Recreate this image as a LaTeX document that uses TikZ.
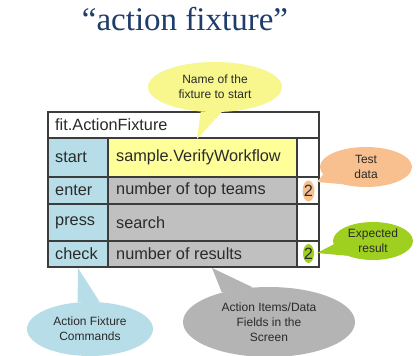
\documentclass[tikz,border=0pt]{standalone}
\usepackage{fontspec}
\setmainfont{Liberation Sans}
\newfontfamily\titlefont{Liberation Serif}
\usetikzlibrary{shapes.geometric}
\definecolor{cmdblue}{HTML}{B7DEE8}
\definecolor{startyellow}{HTML}{FFFF99}
\definecolor{fieldgray}{HTML}{C0C0C0}
\definecolor{noteyellow}{HTML}{F7F78E}
\definecolor{notepeach}{HTML}{F9C08F}
\definecolor{notegreen}{HTML}{9FCF1F}
\definecolor{notegray}{HTML}{B4B4B4}
\definecolor{gridline}{HTML}{3C3C3C}
\definecolor{titleblue}{HTML}{1F3D6B}
\definecolor{celltext}{HTML}{2A2A2A}
\begin{document}
\begin{tikzpicture}[x=1pt,y=-1pt,
  cell/.style={anchor=west, inner sep=0pt, text=celltext, font=\fontsize{16.3}{19}\selectfont},
  digit/.style={inner sep=0pt, text=celltext, font=\fontsize{16.3}{19}\selectfont},
  bubble/.style={ellipse, draw=none, fill=#1, inner sep=0pt},
  bubbletext/.style={align=center, inner sep=0pt, text=celltext, font=\fontsize{12}{15}\selectfont},
  rule/.style={draw=gridline, line width=1.3pt},
]
\useasboundingbox (0,0) rectangle (419,355);
\fill[white] (0,0) rectangle (419,355);

% heading
\node[anchor=base, inner sep=0pt, text=titleblue, font=\titlefont\fontsize{33}{36}\selectfont]
  (title) at (185,31) {“action fixture”};

% table cell backgrounds
\fill[cmdblue] (48,138) rectangle (108,267);
\fill[startyellow] (108,138) rectangle (297,177);
\fill[fieldgray] (108,177) rectangle (297,267);

% highlights behind the data values
\node[bubble=notepeach, minimum width=12pt, minimum height=21pt] (enterhl) at (308.5,191) {};
\node[bubble=notegreen, minimum width=11pt, minimum height=19pt] (checkhl) at (308.5,253.5) {};

% grid
\draw[rule] (48,112) rectangle (319,267);
\foreach \yy in {138,177,204,241} \draw[rule] (48,\yy) -- (319,\yy);
\foreach \xx in {108,297} \draw[rule] (\xx,138) -- (\xx,267);

% cell texts
\node[cell] (hdr) at (55,125) {fit.ActionFixture};
\node[cell] (cstart) at (55,157.5) {start};
\node[cell] (center) at (55,190.5) {enter};
\node[cell] (cpress) at (55,222.5) {press};
\node[cell] (ccheck) at (55,254) {check};
\node[cell] (fstart) at (116,157.5) {sample.VerifyWorkflow};
\node[cell] (fenter) at (116,190.5) {number of top teams};
\node[cell] (fpress) at (116,222.5) {search};
\node[cell] (fcheck) at (116,254) {number of results};
\node[digit] (venter) at (enterhl) {2};
\node[digit] (vcheck) at (checkhl) {2};

% callout: fixture name
\coordinate (yltip) at (197,139);
\node[bubble=noteyellow, minimum width=134pt, minimum height=50pt] (yl) at (215,87) {};
\fill[noteyellow] (yl.240) -- (yltip) -- (yl.285) -- cycle;
\node[bubbletext] (yltext) at (yl) {Name of the\\fixture to start};

% callout: test data
\coordinate (ortip) at (317,182);
\node[bubble=notepeach, minimum width=92pt, minimum height=40pt] (or) at (366,167) {};
\fill[notepeach] (or.190) -- (ortip) -- (or.215) -- cycle;
\node[bubbletext] (ortext) at (or) {Test\\data};

% callout: expected result
\coordinate (grtip) at (317,253);
\node[bubble=notegreen, minimum width=80pt, minimum height=38pt] (gr) at (373,241) {};
\fill[notegreen] (gr.185) -- (grtip) -- (gr.210) -- cycle;
\node[bubbletext] (grtext) at (gr) {Expected\\result};

% callout: fixture commands
\coordinate (bltip) at (78,268);
\node[bubble=cmdblue, minimum width=126pt, minimum height=54pt] (bl) at (90,329) {};
\fill[cmdblue] (bl.115) -- (bltip) -- (bl.70) -- cycle;
\node[bubbletext] (bltext) at (bl) {Action Fixture\\Commands};

% callout: screen fields
\coordinate (gytip) at (212,268);
\node[bubble=notegray, minimum width=172pt, minimum height=70pt] (gy) at (269,322) {};
\fill[notegray] (gy.148) -- (gytip) -- (gy.115) -- cycle;
\node[bubbletext] (gytext) at (gy) {Action Items/Data\\Fields in the\\Screen};
\end{tikzpicture}
\end{document}
